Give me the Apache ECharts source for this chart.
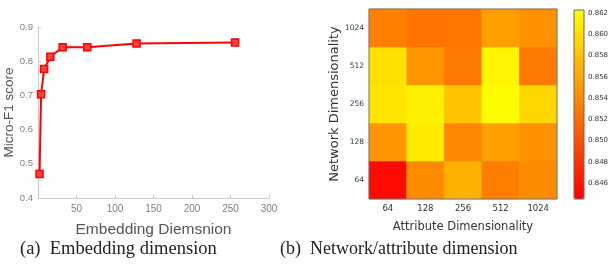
<!DOCTYPE html>
<html>
<head>
<meta charset="utf-8">
<script src="https://cdn.jsdelivr.net/npm/echarts@6/dist/echarts.min.js"></script>
<style>
  html, body { margin: 0; padding: 0; background: #fff; }
  #chart { width: 613px; height: 279px; }
</style>
</head>
<body>
<div id="chart"></div>
<script>
// (a) embedding dimension vs Micro-F1
const embedDims = [2, 4, 8, 16, 32, 64, 128, 256];
const microF1 = [0.470, 0.703, 0.777, 0.813, 0.841, 0.841, 0.852, 0.855];

// (b) heatmap: rows are network dims (bottom to top), cols attribute dims
const attrDims = ['64', '128', '256', '512', '1024'];
const netDims = ['64', '128', '256', '512', '1024'];
const row64 = [0.8452, 0.8543, 0.8567, 0.8532, 0.8543];
const row128 = [0.8550, 0.8609, 0.8539, 0.8557, 0.8546];
const row256 = [0.8605, 0.8612, 0.8581, 0.8620, 0.8595];
const row512 = [0.8602, 0.8550, 0.8529, 0.8616, 0.8529];
const row1024 = [0.8534, 0.8525, 0.8527, 0.8557, 0.8546];
const colorTicks = [0.846, 0.848, 0.850, 0.852, 0.854, 0.856, 0.858, 0.860, 0.862];
const colorMin = 0.8445;
const colorMax = 0.8623;

const rows = [row64, row128, row256, row512, row1024];
const heatData = [];
rows.forEach((r, yi) => {
  r.forEach((v, xi) => heatData.push([xi, yi, v]));
});

const chart = echarts.init(document.getElementById('chart'));

const grayAxis = { lineStyle: { color: '#c8c8c8' } };

const option = {
  animation: false,
  grid: [
    { left: 38, top: 27, width: 231, height: 171 },
    { left: 369, top: 9, width: 188, height: 190, show: true, borderColor: '#777', borderWidth: 1, backgroundColor: 'transparent', z: 5 },
    { left: 574, top: 10, width: 10, height: 189, show: true, borderColor: '#666', borderWidth: 1, backgroundColor: 'transparent', z: 5 }
  ],
  xAxis: [
    {
      gridIndex: 0, type: 'value', min: 0, max: 300, interval: 50,
      axisLine: grayAxis,
      axisTick: { inside: true, length: 3, lineStyle: { color: '#c8c8c8' } },
      splitLine: { show: false },
      axisLabel: { color: '#808080', fontSize: 10, fontFamily: 'Liberation Sans', margin: 6,
        formatter: v => (v === 0 ? '' : v) },
      name: 'Embedding Diemsnion', nameLocation: 'middle', nameGap: 24,
      nameTextStyle: { color: '#555', fontSize: 15.5, fontFamily: 'Liberation Sans' }
    },
    {
      gridIndex: 1, type: 'category', data: attrDims,
      axisLine: { show: false },
      axisTick: { alignWithLabel: true, length: 3, lineStyle: { color: '#444' } },
      axisLabel: { margin: 5, color: '#333', fontSize: 8.5, fontFamily: 'DejaVu Sans' },
      name: 'Attribute Dimensionality', nameLocation: 'middle', nameGap: 22,
      nameTextStyle: { color: '#333', fontSize: 11.5, fontFamily: 'DejaVu Sans' }
    },
    { gridIndex: 2, type: 'value', show: false, min: 0, max: 1 }
  ],
  yAxis: [
    {
      gridIndex: 0, type: 'value', min: 0.4, max: 0.9, interval: 0.1,
      axisLine: Object.assign({ show: true }, grayAxis),
      axisTick: { show: true, inside: true, length: 3, lineStyle: { color: '#c8c8c8' } },
      splitLine: { show: false },
      axisLabel: { color: '#808080', fontSize: 9.5, fontFamily: 'Liberation Sans', margin: 5,
        formatter: v => v.toFixed(1) },
      name: 'Micro-F1 score', nameLocation: 'middle', nameGap: 22,
      nameTextStyle: { color: '#555', fontSize: 13.5, fontFamily: 'Liberation Sans' }
    },
    {
      gridIndex: 1, type: 'category', data: netDims,
      axisLine: { show: false },
      axisTick: { alignWithLabel: true, length: 3, lineStyle: { color: '#444' } },
      axisLabel: { margin: 5, color: '#333', fontSize: 7.5, fontFamily: 'DejaVu Sans' },
      name: 'Network Dimensionality', nameLocation: 'middle', nameGap: 27,
      nameTextStyle: { color: '#333', fontSize: 13, fontFamily: 'DejaVu Sans' }
    },
    {
      gridIndex: 2, type: 'value', min: colorMin, max: colorMax, position: 'right',
      axisLine: { show: false },
      splitLine: { show: false },
      axisTick: { show: true, length: 3, customValues: colorTicks, lineStyle: { color: '#444' } },
      axisLabel: { margin: 4, customValues: colorTicks, formatter: v => v.toFixed(3),
        color: '#333', fontSize: 7, fontFamily: 'DejaVu Sans' }
    }
  ],
  visualMap: {
    type: 'continuous',
    seriesIndex: 1,
    min: colorMin, max: colorMax,
    calculable: false,
    left: 574, top: 10, padding: 0,
    itemWidth: 10, itemHeight: 189,
    text: null, showLabel: false,
    inRange: { color: ['#ff0000', '#ffff00'] }
  },
  series: [
    {
      type: 'line', xAxisIndex: 0, yAxisIndex: 0,
      data: embedDims.map((d, i) => [d, microF1[i]]),
      lineStyle: { color: '#ff0000', width: 2 },
      symbol: 'rect', symbolSize: 7,
      itemStyle: { color: '#ff4040', borderColor: '#ff0000', borderWidth: 1.5 }
    },
    {
      type: 'heatmap', xAxisIndex: 1, yAxisIndex: 1,
      data: heatData,
      itemStyle: { borderWidth: 0 }
    }
  ],
  graphic: [
    { type: 'text', left: 20, top: 240, style: { text: '(a)  Embedding dimension', font: '18.5px "Liberation Serif"', fill: '#222' } },
    { type: 'text', left: 280, top: 240, style: { text: '(b)  Network/attribute dimension', font: '18px "Liberation Serif"', fill: '#222' } }
  ]
};

chart.setOption(option);
</script>
</body>
</html>
